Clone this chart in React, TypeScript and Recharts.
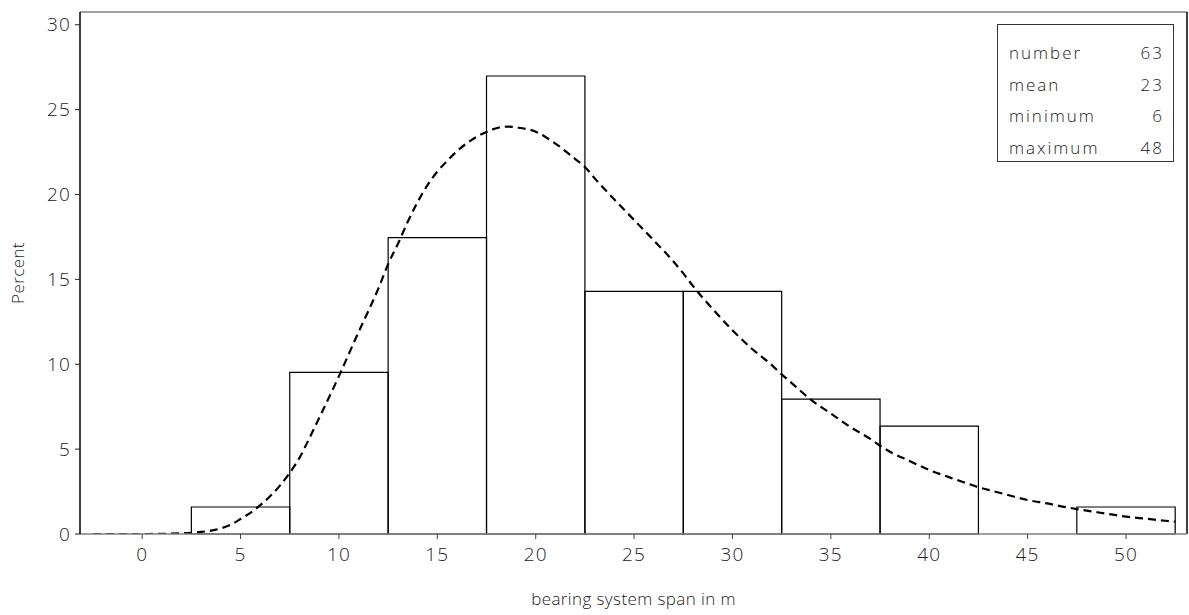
import React from 'react';
import { ComposedChart, Line, XAxis, YAxis, ReferenceArea, ReferenceLine, Label } from 'recharts';

// histogram bins (bearing system span, m) and their share in percent
const binLower = [2.5, 7.5, 12.5, 17.5, 22.5, 27.5, 32.5, 37.5, 42.5, 47.5];
const binUpper = [7.5, 12.5, 17.5, 22.5, 27.5, 32.5, 37.5, 42.5, 47.5, 52.5];
const binPercent = [1.59, 9.52, 17.46, 26.98, 14.29, 14.29, 7.94, 6.35, 0, 1.59];

// fitted density curve
const curveX = [
  -2.5, 0, 1, 2, 2.5, 3, 3.5, 4, 4.5, 5, 5.5, 6, 6.5, 7, 7.5, 8, 8.5, 9, 10, 11, 11.5, 12, 12.5,
  13, 13.5, 14, 14.5, 15, 15.5, 16, 16.5, 17, 17.5, 18, 18.6, 19, 20, 21, 22, 22.5, 23, 24, 25,
  26, 27, 27.5, 28, 28.5, 29, 30, 31, 32, 32.5, 33, 34, 35, 36, 37, 37.5, 38, 39, 40, 41, 42,
  42.5, 43, 44, 45, 46, 47, 48, 49, 50, 51, 52, 52.5,
];
const curveY = [
  0, 0, 0.01, 0.04, 0.07, 0.12, 0.2, 0.33, 0.55, 0.88, 1.25, 1.7, 2.22, 2.85, 3.6, 4.5, 5.65,
  6.85, 9.3, 11.9, 13.15, 14.45, 15.9, 17.1, 18.4, 19.56, 20.55, 21.35, 21.98, 22.55, 23.02,
  23.4, 23.68, 23.9, 24.0, 23.95, 23.7, 23.0, 22.1, 21.62, 20.95, 19.7, 18.5, 17.3, 16.05,
  15.35, 14.6, 13.9, 13.25, 12.0, 10.9, 9.95, 9.4, 8.9, 7.9, 7.1, 6.3, 5.6, 5.2, 4.85, 4.3,
  3.77, 3.35, 2.95, 2.75, 2.6, 2.3, 2.0, 1.8, 1.57, 1.38, 1.2, 1.02, 0.9, 0.78, 0.73,
];

const xTicks = [0, 5, 10, 15, 20, 25, 30, 35, 40, 45, 50];
const yTicks = [0, 5, 10, 15, 20, 25, 30];
const xDomain = [-3.16, 53.1];
const yDomain = [0, 30.75];

const statLabels = ['number', 'mean', 'minimum', 'maximum'];
const statValues = [63, 23, 6, 48];

const curveData = curveX.map((x, i) => ({ x, pct: curveY[i] }));

const font = "'Open Sans', 'DejaVu Sans', sans-serif";
const tickStyle = { fontSize: 19, fill: '#222', fontFamily: font, fontWeight: 300, letterSpacing: 1.2 };

export default function App() {
  return (
    <div style={{ position: 'absolute', left: 0, top: 0, width: 1189, height: 615, background: '#fff' }}>
      <ComposedChart width={1189} height={615} margin={{ top: 12, right: 2, bottom: 0, left: 0 }}>
        <XAxis
          dataKey="x"
          type="number"
          domain={xDomain}
          allowDataOverflow
          ticks={xTicks}
          height={81}
          tickSize={5}
          tickMargin={9}
          tick={tickStyle}
          tickLine={{ stroke: '#444' }}
          axisLine={{ stroke: '#808080', strokeWidth: 1.5 }}
        >
          <Label
            value="bearing system span in m"
            position="insideBottom"
            offset={10}
            style={{ fontSize: 17, fill: '#222', fontFamily: font, fontWeight: 300, letterSpacing: 0.4 }}
          />
        </XAxis>
        <YAxis
          type="number"
          domain={yDomain}
          allowDataOverflow
          ticks={yTicks}
          width={80}
          tickSize={5}
          tickMargin={4}
          tick={tickStyle}
          tickLine={{ stroke: '#222' }}
          axisLine={{ stroke: '#000', strokeWidth: 1.5 }}
        >
          <Label
            value="Percent"
            angle={-90}
            position="insideLeft"
            offset={18}
            style={{ fontSize: 17, fill: '#222', fontFamily: font, fontWeight: 300, textAnchor: 'middle', letterSpacing: 0.4 }}
          />
        </YAxis>
        <ReferenceLine y={yDomain[1]} stroke="#808080" strokeWidth={1.5} ifOverflow="visible" />
        <ReferenceLine x={xDomain[1]} stroke="#000" strokeWidth={1.5} ifOverflow="visible" />
        {binPercent.map((p, i) =>
          p > 0 ? (
            <ReferenceArea
              key={i}
              x1={binLower[i]}
              x2={binUpper[i]}
              y1={0}
              y2={p}
              fill="none"
              fillOpacity={0}
              stroke="#000"
              strokeWidth={1.2}
              ifOverflow="visible"
            />
          ) : null
        )}
        <Line
          data={curveData}
          dataKey="pct"
          type="monotone"
          stroke="#000"
          strokeWidth={2.2}
          strokeDasharray="8 5"
          dot={false}
          activeDot={false}
          isAnimationActive={false}
        />
      </ComposedChart>
      <div
        style={{
          position: 'absolute',
          left: 997,
          top: 24,
          width: 177,
          height: 138,
          border: '1px solid #333',
          boxSizing: 'border-box',
          fontFamily: font,
          fontWeight: 300,
          fontSize: 17,
          letterSpacing: 2,
          color: '#222',
          padding: '12px 9px 0 11px',
        }}
      >
        {statLabels.map((label, i) => (
          <div key={label} style={{ display: 'flex', justifyContent: 'space-between', height: 31.5, lineHeight: '31.5px' }}>
            <span>{label}</span>
            <span>{statValues[i]}</span>
          </div>
        ))}
      </div>
    </div>
  );
}
